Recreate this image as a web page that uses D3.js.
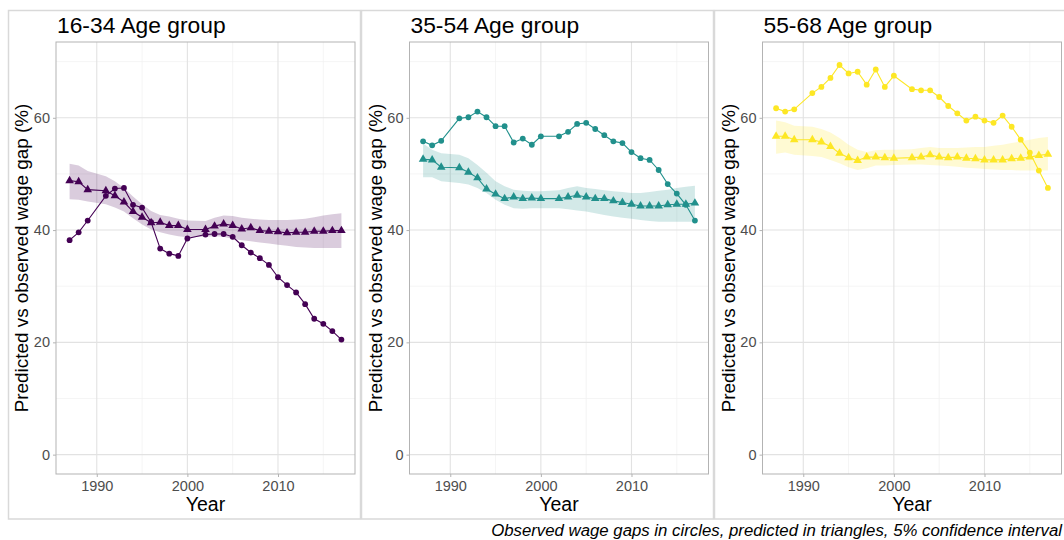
<!DOCTYPE html>
<html>
<head>
<meta charset="utf-8">
<script src="https://cdn.jsdelivr.net/npm/d3@7"></script>
<style>
  body { margin: 0; background: #ffffff; }
  svg { font-family: "Liberation Sans", Arial, sans-serif; display: block; }
</style>
</head>
<body>
<script>
'use strict';

// survey years (1990 and 2001 are missing)
const years = [1987, 1988, 1989, 1991, 1992, 1993, 1994, 1995, 1996, 1997, 1998, 1999, 2000,
  2002, 2003, 2004, 2005, 2006, 2007, 2008, 2009, 2010, 2011, 2012, 2013, 2014, 2015, 2016, 2017];

const groups = ["16-34 Age group", "35-54 Age group", "55-68 Age group"];
const groupColors = ["#440154", "#21908C", "#FDE725"];

// 16-34
const observed1 = [38.2, 39.6, 41.7, 46.1, 47.4, 47.5, 44.5, 44.0, 41.4, 36.7, 35.8, 35.4, 38.5,
  39.2, 39.3, 39.3, 38.8, 37.3, 36.0, 35.0, 33.8, 31.6, 30.2, 28.9, 26.8, 24.2, 23.3, 22.0, 20.5];
const predicted1 = [48.8, 48.6, 47.2, 47.0, 46.1, 45.0, 43.3, 42.3, 41.3, 41.4, 40.8, 40.8, 40.1,
  40.1, 40.7, 41.1, 40.8, 40.2, 40.4, 39.9, 39.8, 39.7, 39.5, 39.6, 39.6, 39.8, 39.8, 39.9, 39.9];
const upper1 = [51.8, 51.5, 50.5, 49.6, 48.7, 47.5, 46.0, 44.6, 43.4, 42.7, 42.4, 42.0, 41.7,
  41.6, 42.2, 42.6, 42.5, 42.2, 42.0, 41.9, 41.8, 41.8, 41.8, 41.9, 42.0, 42.3, 42.6, 42.8, 43.0];
const lower1 = [45.5, 45.4, 45.1, 44.6, 44.0, 43.3, 42.1, 41.0, 40.1, 39.6, 39.2, 38.9, 38.7,
  38.8, 38.9, 38.8, 38.4, 38.2, 38.0, 37.8, 37.6, 37.4, 37.2, 37.0, 36.9, 36.8, 36.8, 36.8, 36.8];

// 35-54
const observed2 = [55.8, 55.1, 55.9, 59.9, 60.1, 61.1, 60.1, 58.5, 58.5, 55.6, 56.3, 55.2, 56.7,
  56.7, 57.5, 58.9, 59.1, 58.0, 56.9, 55.8, 55.5, 53.9, 52.8, 52.5, 50.7, 48.2, 46.5, 44.5, 41.7];
const predicted2 = [52.6, 52.5, 51.2, 51.1, 50.3, 49.3, 47.3, 46.4, 45.6, 45.9, 45.6, 45.7, 45.6,
  45.6, 45.9, 46.2, 45.9, 45.6, 45.6, 45.2, 44.9, 44.6, 44.3, 44.3, 44.3, 44.5, 44.6, 44.6, 44.8];
const upper2 = [55.4, 54.3, 53.7, 53.4, 52.8, 51.6, 50.2, 48.7, 47.8, 47.2, 47.0, 46.9, 46.9,
  47.1, 47.5, 47.8, 47.5, 47.3, 47.1, 46.9, 46.8, 46.6, 46.6, 46.8, 47.0, 47.2, 47.5, 47.7, 47.9];
const lower2 = [49.4, 49.4, 48.7, 48.4, 48.1, 47.5, 46.6, 45.4, 44.5, 43.9, 43.8, 43.9, 43.9,
  43.9, 43.7, 43.5, 43.3, 43.0, 42.7, 42.4, 42.2, 42.0, 41.8, 41.6, 41.5, 41.5, 41.5, 41.5, 41.5];

// 55-68
const observed3 = [61.7, 61.1, 61.5, 64.4, 65.5, 67.1, 69.4, 67.9, 68.2, 65.9, 68.6, 65.5, 67.5,
  65.1, 64.9, 64.9, 63.7, 62.1, 60.8, 59.5, 60.2, 59.5, 59.1, 60.4, 58.4, 56.1, 53.8, 50.6, 47.5];
const predicted3 = [56.7, 56.7, 56.1, 56.1, 55.7, 54.9, 53.7, 52.9, 52.4, 53.0, 53.0, 52.9, 52.8,
  52.9, 53.0, 53.4, 53.0, 52.9, 53.0, 52.8, 52.7, 52.5, 52.5, 52.5, 52.7, 52.8, 53.0, 53.3, 53.5];
const upper3 = [59.5, 59.2, 58.6, 58.4, 58.0, 57.4, 56.4, 55.2, 54.3, 53.9, 54.2, 54.3, 54.3,
  54.4, 54.6, 54.8, 54.6, 54.6, 54.6, 54.7, 54.8, 54.8, 55.0, 55.2, 55.5, 55.8, 56.1, 56.4, 56.6];
const lower3 = [53.6, 53.8, 53.4, 53.2, 53.0, 52.5, 51.9, 51.2, 50.7, 51.0, 51.5, 51.5, 51.6,
  51.7, 51.7, 51.6, 51.5, 51.4, 51.3, 51.1, 51.0, 50.9, 50.8, 50.7, 50.7, 50.6, 50.6, 50.6, 50.6];

const xTicks = [1990, 2000, 2010];
const xMinorTicks = [1995, 2005, 2015];
const yTicks = [0, 20, 40, 60];
const yMinorTicks = [10, 30, 50, 70];
const caption = "Observed wage gaps in circles, predicted in triangles, 5% confidence interval";

(function() {

  let svgContainer = ""; // keep SVG reference in scope

  window.onload = function() {
    svgContainer = d3.select('body')
      .append('svg')
      .attr('width', 1064)
      .attr('height', 540);

    let series = [
      { obs: observed1, pred: predicted1, up: upper1, lo: lower1 },
      { obs: observed2, pred: predicted2, up: upper2, lo: lower2 },
      { obs: observed3, pred: predicted3, up: upper3, lo: lower3 }
    ];

    let panelLefts = [56, 409.5, 762.5];
    groups.forEach((g, i) => makePanel(g, series[i], groupColors[i], panelLefts[i], i));

    // caption under the panels
    svgContainer.append('text')
      .attr('x', 1062)
      .attr('y', 536)
      .attr('text-anchor', 'end')
      .style('font-size', '16.8px')
      .style('font-style', 'italic')
      .text(caption);
  }

  // one facet: box, grid, axes, band, lines and points
  function makePanel(title, s, color, left, idx) {
    let top = 42, bottom = 474, width = 299;
    let rows = years.map((y, i) => ({ year: y, obs: s.obs[i], pred: s.pred[i], up: s.up[i], lo: s.lo[i] }));

    // outer box around the facet
    svgContainer.append('rect')
      .attr('x', 8.5 + idx * 353)
      .attr('y', 10.5)
      .attr('width', 352)
      .attr('height', 508.5)
      .attr('fill', 'none')
      .attr('stroke', '#d9d9d9')
      .attr('stroke-width', 1.5);

    let xScale = d3.scaleLinear()
      .domain([1985.5, 2018.5])
      .range([left, left + width]);

    let yScale = d3.scaleLinear()
      .domain([-3.45, 73.5])
      .range([bottom, top]);

    let g = svgContainer.append('g');

    // minor then major grid
    g.selectAll('.xminor').data(xMinorTicks).enter().append('line')
      .attr('x1', d => xScale(d)).attr('x2', d => xScale(d))
      .attr('y1', top).attr('y2', bottom)
      .attr('stroke', '#efefef').attr('stroke-width', 0.7);
    g.selectAll('.yminor').data(yMinorTicks).enter().append('line')
      .attr('x1', left).attr('x2', left + width)
      .attr('y1', d => yScale(d)).attr('y2', d => yScale(d))
      .attr('stroke', '#efefef').attr('stroke-width', 0.7);
    g.selectAll('.xmajor').data(xTicks).enter().append('line')
      .attr('x1', d => xScale(d)).attr('x2', d => xScale(d))
      .attr('y1', top).attr('y2', bottom)
      .attr('stroke', '#e2e2e2').attr('stroke-width', 1.1);
    g.selectAll('.ymajor').data(yTicks).enter().append('line')
      .attr('x1', left).attr('x2', left + width)
      .attr('y1', d => yScale(d)).attr('y2', d => yScale(d))
      .attr('stroke', '#e2e2e2').attr('stroke-width', 1.1);

    // confidence band
    let area = d3.area()
      .x(d => xScale(d.year))
      .y0(d => yScale(d.lo))
      .y1(d => yScale(d.up));
    g.append('path')
      .datum(rows)
      .attr('d', area)
      .attr('fill', color)
      .attr('fill-opacity', 0.2);

    // lines for observed and predicted
    let obsLine = d3.line().x(d => xScale(d.year)).y(d => yScale(d.obs));
    let predLine = d3.line().x(d => xScale(d.year)).y(d => yScale(d.pred));
    g.append('path').datum(rows).attr('d', obsLine)
      .attr('fill', 'none').attr('stroke', color).attr('stroke-width', 1.1);
    g.append('path').datum(rows).attr('d', predLine)
      .attr('fill', 'none').attr('stroke', color).attr('stroke-width', 1.1);

    // observed as circles
    g.selectAll('.dot').data(rows).enter().append('circle')
      .attr('cx', d => xScale(d.year))
      .attr('cy', d => yScale(d.obs))
      .attr('r', 2.9)
      .attr('fill', color);

    // predicted as triangles
    let tri = d3.symbol().type(d3.symbolTriangle).size(32);
    g.selectAll('.tri').data(rows).enter().append('path')
      .attr('transform', d => 'translate(' + xScale(d.year) + ',' + yScale(d.pred) + ')')
      .attr('d', tri)
      .attr('fill', color);

    // panel border
    svgContainer.append('rect')
      .attr('x', left).attr('y', top)
      .attr('width', width).attr('height', bottom - top)
      .attr('fill', 'none')
      .attr('stroke', '#b3b3b3')
      .attr('stroke-width', 1);

    // axes
    let xAxis = d3.axisBottom(xScale).tickValues(xTicks).tickFormat(d3.format('d'))
      .tickSize(3).tickPadding(3.5);
    let xg = svgContainer.append('g')
      .attr('transform', 'translate(0,' + bottom + ')')
      .call(xAxis);
    let yAxis = d3.axisLeft(yScale).tickValues(yTicks).tickSize(3).tickPadding(3);
    let yg = svgContainer.append('g')
      .attr('transform', 'translate(' + left + ',0)')
      .call(yAxis);
    [xg, yg].forEach(a => {
      a.select('.domain').remove();
      a.selectAll('line').attr('stroke', '#b3b3b3');
      a.selectAll('text')
        .style('font-size', '14.5px')
        .style('font-family', '"Liberation Sans", Arial, sans-serif')
        .attr('fill', '#4d4d4d');
    });

    // title and axis labels
    svgContainer.append('text')
      .attr('x', left + 1)
      .attr('y', 32.5)
      .style('font-size', '22.8px')
      .text(title);

    svgContainer.append('text')
      .attr('x', left + width / 2)
      .attr('y', 511)
      .attr('text-anchor', 'middle')
      .style('font-size', '19.5px')
      .text('Year');

    svgContainer.append('text')
      .attr('transform', 'translate(' + (left - 28) + ',' + ((top + bottom) / 2) + ')rotate(-90)')
      .attr('text-anchor', 'middle')
      .style('font-size', '18.9px')
      .text('Predicted vs observed wage gap (%)');
  }

})();
</script>
</body>
</html>
